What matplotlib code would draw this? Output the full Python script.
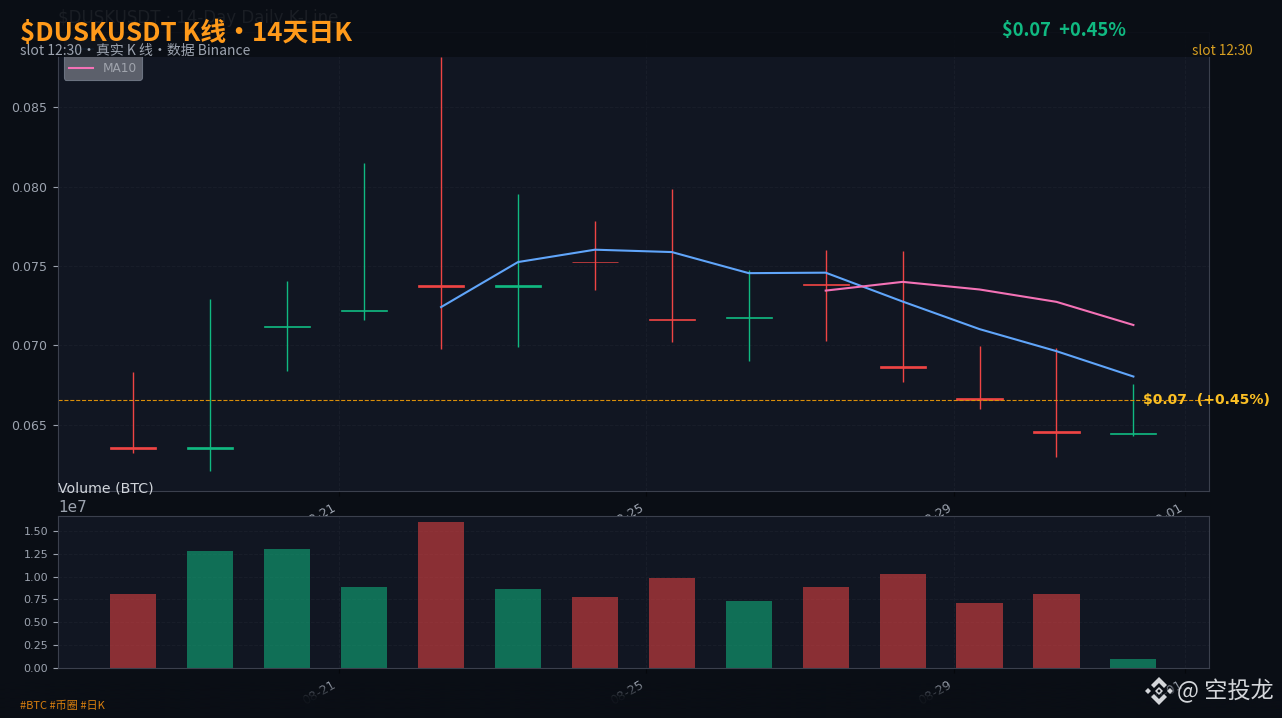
#!/usr/bin/env python3
"""$DUSKUSDT 14-day daily k-line with volume panel."""

import matplotlib
matplotlib.use("Agg")
import matplotlib.dates as mdates
import matplotlib.pyplot as plt
import numpy as np
import pandas as pd
from matplotlib.patches import Polygon, Rectangle
from matplotlib.ticker import MultipleLocator

CJK = ["Noto Sans CJK SC", "DejaVu Sans"]

BG = "#0a0e15"
PANEL = "#111622"
SPINE = "#3b404d"
GRID = "#191e2a"
TICK = "#9ca3af"
RED = "#ef4444"
GREEN = "#10b981"

days = ["2025-08-18", "2025-08-19", "2025-08-20", "2025-08-21", "2025-08-22",
        "2025-08-23", "2025-08-24", "2025-08-25", "2025-08-26", "2025-08-27",
        "2025-08-28", "2025-08-29", "2025-08-30", "2025-08-31"]
opens = [0.06356, 0.06348, 0.07118, 0.07219, 0.07378, 0.07369, 0.07526,
         0.07163, 0.07171, 0.07384, 0.06867, 0.06667, 0.06457, 0.06442]
closes = [0.06348, 0.06356, 0.07124, 0.07225, 0.07368, 0.07378, 0.07524,
          0.07161, 0.07179, 0.07382, 0.06859, 0.06655, 0.06449, 0.06444]
highs = [0.06831, 0.07291, 0.07405, 0.08149, 0.08820, 0.07953, 0.07783,
         0.07985, 0.07474, 0.07600, 0.07594, 0.06995, 0.06982, 0.06755]
lows = [0.06320, 0.06207, 0.06837, 0.07159, 0.06976, 0.06989, 0.07348,
        0.07020, 0.06900, 0.07026, 0.06768, 0.06598, 0.06295, 0.06427]
volumes = [0.81e7, 1.28e7, 1.30e7, 0.887e7, 1.60e7, 0.865e7, 0.777e7,
           0.985e7, 0.734e7, 0.887e7, 1.03e7, 0.712e7, 0.81e7, 0.0985e7]
ma5 = [np.nan, np.nan, np.nan, np.nan, 0.07241, 0.07525, 0.07603, 0.07588,
       0.07455, 0.07458, 0.07276, 0.07102, 0.06963, 0.06803]
ma10 = [np.nan] * 9 + [0.07345, 0.07400, 0.07352, 0.07274, 0.07128]
last_price = 0.06655


def px_axes(fig, left, top, right, bottom):
    w, h = 1282, 718
    return fig.add_axes([left / w, 1 - bottom / h, (right - left) / w,
                         (bottom - top) / h])


def style_axes(ax, labelsize, ypad):
    ax.set_facecolor(PANEL)
    for s in ax.spines.values():
        s.set_color(SPINE)
    ax.grid(True, color=GRID, linestyle="--", linewidth=0.7)
    ax.set_axisbelow(True)
    ax.tick_params(axis="y", colors=TICK, labelsize=labelsize, pad=ypad)
    ax.tick_params(axis="x", color="#05070b", labelcolor=TICK, labelsize=9,
                   labelrotation=30)
    ax.xaxis.set_major_locator(mdates.DayLocator(bymonthday=range(1, 30, 4)))
    ax.xaxis.set_major_formatter(mdates.DateFormatter("%m-%d"))


def main():
    x = mdates.date2num(pd.to_datetime(days) + pd.Timedelta(hours=8))
    up = np.array(closes) >= np.array(opens)
    colors = [GREEN if u else RED for u in up]

    fig = plt.figure(figsize=(12.82, 7.18), dpi=100, facecolor=BG)
    ax = px_axes(fig, 58, 32, 1209, 491)
    vax = px_axes(fig, 58, 516, 1209, 668)
    style_axes(ax, 9, 4.5)
    style_axes(vax, 8, 3.5)

    # candles
    ax.vlines(x, lows, highs, colors=colors, linewidth=1.0)
    ax.bar(x, np.abs(np.array(closes) - np.array(opens)),
           bottom=np.minimum(opens, closes), width=0.6, color=colors,
           edgecolor=colors, linewidth=0.5)
    ax.plot(x, ma5, color="#60a5fa", linewidth=1.5, label="MA5")
    ax.plot(x, ma10, color="#f472b6", linewidth=1.5, label="MA10")
    ax.axhline(last_price, color="#d98e0a", linestyle="--", linewidth=0.8)
    ax.text(x[-1] + 0.13, last_price, r"\$0.07  (+0.45%)", color="#fbbf24",
            fontsize=10.1, fontweight="bold", va="center")
    ax.set_xlim(x[0] - 0.98, x[-1] + 0.983)
    ax.set_ylim(0.06081, 0.08976)
    ax.yaxis.set_major_locator(MultipleLocator(0.005))
    ax.yaxis.set_major_formatter(lambda v, _: f"{v:.3f}")
    for lab in ax.get_xticklabels():
        lab.set_ha("right")
    ax.text(0, 1.031, r"\$DUSKUSDT · 14-Day Daily K-Line", transform=ax.transAxes,
            color="#e5e7eb", fontsize=12, va="center")
    leg = ax.legend(loc="upper left", fontsize=8.7, facecolor="#5c606b",
                    edgecolor="#6b7280", framealpha=1, labelcolor="#a0a4ad")
    leg.get_frame().set_linewidth(0.8)

    # volume
    vax.bar(x, volumes, width=0.6, color=colors, alpha=0.55)
    vax.set_xlim(ax.get_xlim())
    vax.set_ylim(0, 1.664e7)
    vax.yaxis.set_major_locator(MultipleLocator(0.25e7))
    vax.yaxis.get_offset_text().set_color(TICK)
    vax.yaxis.get_offset_text().set_fontsize(11)
    for lab in vax.get_xticklabels():
        lab.set_ha("right")

    # header, footer and texts sit on a full figure layer in pixel coords
    top = fig.add_axes([0, 0, 1, 1], zorder=10)
    top.patch.set_alpha(0)
    top.axis("off")
    top.add_patch(Rectangle((0, 0), 1282, 57, facecolor=BG, alpha=0.93,
                            edgecolor="none"))
    fade = np.zeros((64, 1, 4))
    fade[..., :3] = matplotlib.colors.to_rgb(BG)
    fade[:, 0, 3] = np.clip(np.linspace(0, 2.2, 64), 0, 0.95)
    top.imshow(fade, extent=(0, 1282, 718, 682), aspect="auto")
    top.set_xlim(0, 1282)
    top.set_ylim(718, 0)

    top.text(20, 33, r"\$DUSKUSDT K线·14天日K", family=CJK, fontweight="bold",
             fontsize=18.6, color="#ff9a1a", va="center")
    top.text(20, 51, "slot 12:30·真实 K 线·数据 Binance", family=CJK,
             fontsize=10, color=TICK, va="center")
    top.text(1002, 31, r"\$0.07  +0.45%", family=CJK, fontsize=13.2,
             fontweight="bold", color=GREEN, va="center")
    top.text(1253, 51, "slot 12:30", family=CJK, fontsize=9.8, color="#d9a021",
             va="center", ha="right")
    top.text(58, 488, "Volume (BTC)", color="#d1d5db", fontsize=10.2, va="center")
    top.text(20, 706, "#BTC #币圈 #日K", family=CJK, fontsize=8, color="#d97f0e",
             va="center")
    top.text(1177, 691, "@ 空投龙", family=CJK, fontsize=16.7, color="#d4d6da",
             va="center")

    # binance mark
    cx, cy = 1159, 691
    shapes = [
        [(-14, 0), (-11, -3), (-8, 0), (-11, 3)],
        [(14, 0), (11, -3), (8, 0), (11, 3)],
        [(0, -14), (8, -6), (5, -3), (0, -8), (-5, -3), (-8, -6)],
        [(0, 14), (8, 6), (5, 3), (0, 8), (-5, 3), (-8, 6)],
        [(0, -4), (4, 0), (0, 4), (-4, 0)],
    ]
    for pts in shapes:
        top.add_patch(Polygon([(cx + a, cy + b) for a, b in pts],
                              facecolor="#d4d6da", edgecolor="none"))
    top.add_patch(Polygon([(cx, cy - 1.8), (cx + 1.8, cy), (cx, cy + 1.8),
                           (cx - 1.8, cy)], facecolor=BG, edgecolor="none"))

    fig.savefig("out.png", dpi=100, facecolor=BG)


if __name__ == "__main__":
    main()
